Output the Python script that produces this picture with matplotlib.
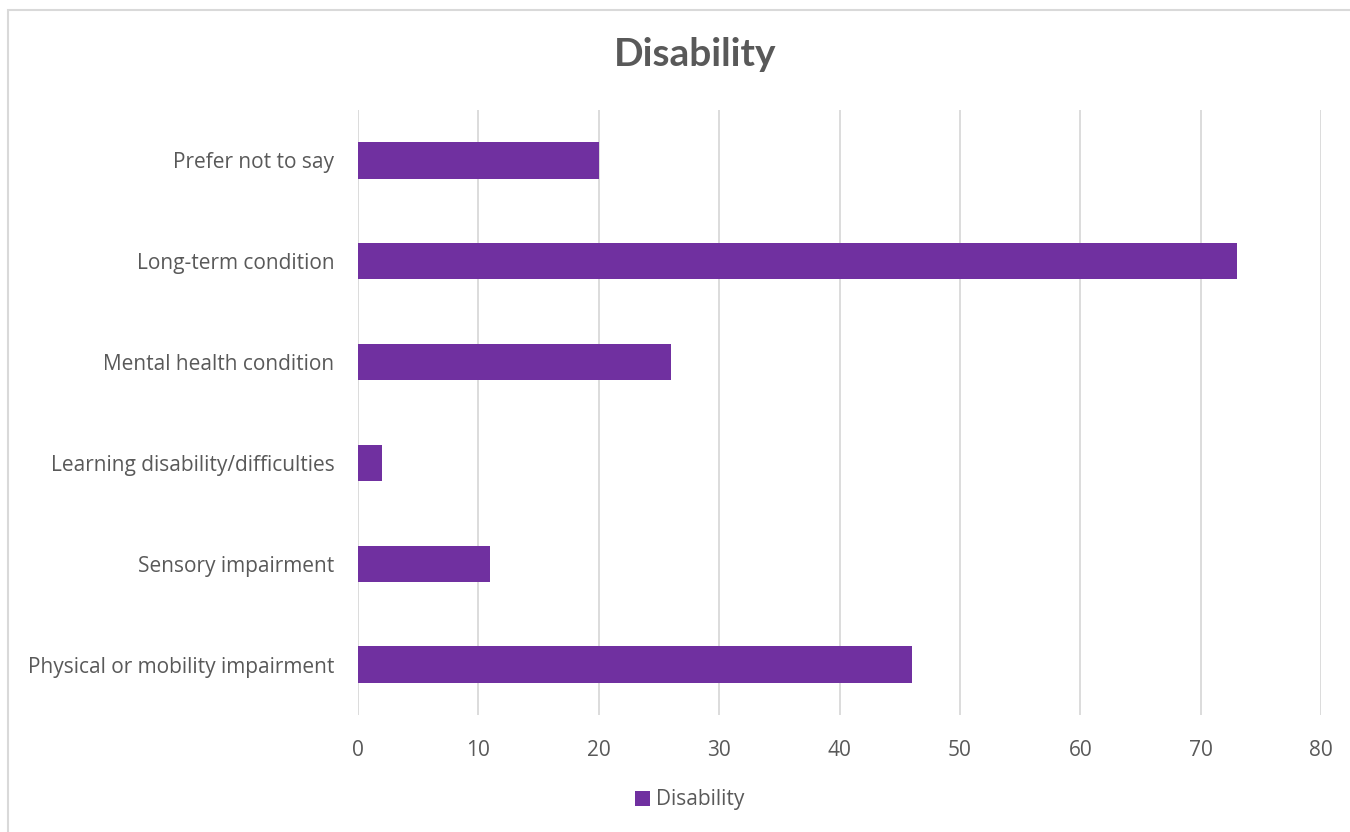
import matplotlib
matplotlib.use("Agg")
import matplotlib.pyplot as plt
from matplotlib.patches import Rectangle

categories = [
    "Physical or mobility impairment",
    "Sensory impairment",
    "Learning disability/difficulties",
    "Mental health condition",
    "Long-term condition",
    "Prefer not to say",
]
values = [46, 11, 2, 26, 73, 20]
x_ticks = [0, 10, 20, 30, 40, 50, 60, 70, 80]
series_name = "Disability"
title = "Disability"

bar_color = "#7030A0"
text_color = "#595959"
grid_color = "#D9D9D9"

plt.rcParams["font.family"] = ["Open Sans", "DejaVu Sans"]

W, H = 1350, 832
fig = plt.figure(figsize=(W / 100, H / 100), dpi=100)

# Chart frame
fig.patches.append(Rectangle((8 / W, -0.1), 1.2, 1.1 - 10 / H,
                             transform=fig.transFigure, fill=False,
                             edgecolor=grid_color, linewidth=1.5))

ax = fig.add_axes([358 / W, (H - 715) / H, (1321 - 358) / W, (715 - 110) / H])
y = range(len(categories))
ax.barh(y, values, height=0.36, color=bar_color, label=series_name, zorder=3)

ax.set_xlim(0, 80)
ax.set_ylim(-0.5, len(categories) - 0.5)
ax.set_xticks(x_ticks)
ax.set_yticks(list(y))
ax.set_yticklabels(categories)
ax.grid(axis="x", color=grid_color, linewidth=1.3, zorder=0)
for s in ax.spines.values():
    s.set_visible(False)
ax.tick_params(axis="both", length=0, labelsize=15, colors=text_color)
ax.tick_params(axis="x", pad=18)
ax.tick_params(axis="y", pad=17)

fig.text(695 / W, 1 - 54 / H, title, ha="center", va="center",
         fontsize=28, fontweight="bold", color=text_color, family=["Lato", "DejaVu Sans"])

handles, labels = ax.get_legend_handles_labels()
fig.legend(handles, labels, loc="center", bbox_to_anchor=(690 / W, 1 - 800 / H),
           frameon=False, fontsize=15, labelcolor=text_color,
           handlelength=0.7, handleheight=0.7, handletextpad=0.3)

fig.savefig("out.png", dpi=100, facecolor="white")
